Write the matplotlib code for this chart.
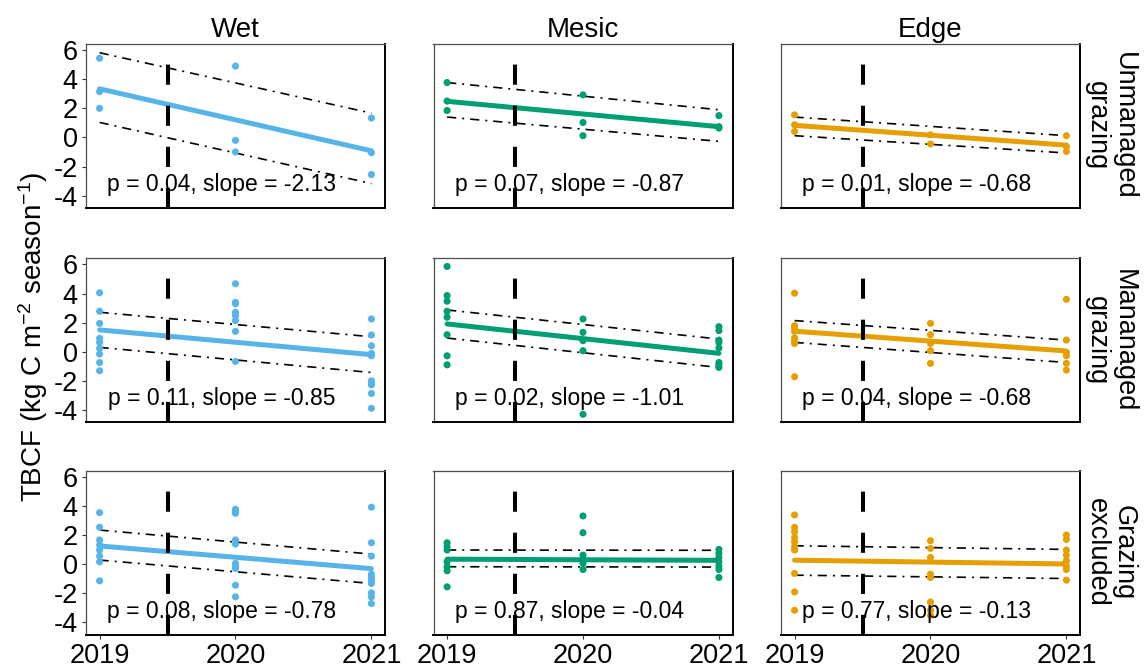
import matplotlib
matplotlib.use("Agg")
import matplotlib.pyplot as plt

plt.rcParams['font.family'] = ['Liberation Sans', 'DejaVu Sans']
plt.rcParams['mathtext.fontset'] = 'custom'
plt.rcParams['mathtext.rm'] = 'Liberation Sans'
plt.rcParams['mathtext.it'] = 'Liberation Sans:italic'
plt.rcParams['axes.unicode_minus'] = False

# ---- data -------------------------------------------------------------
habitats = ["Wet", "Mesic", "Edge"]
treatments = ["Unmanaged\ngrazing", "Mananaged\ngrazing", "Grazing\nexcluded"]
years = [2019, 2020, 2021]
colors = ["#56B4E9", "#009E73", "#E69F00"]

# TBCF observations per year (2019, 2020, 2021)
wet_unmanaged = [[5.44, 3.15, 2.0], [4.9, -0.2, -1.0], [1.33, -1.05, -2.55]]
mesic_unmanaged = [[3.77, 2.5, 1.85], [2.92, 1.03, 0.12], [1.5, 0.74, 0.64]]
edge_unmanaged = [[1.55, 0.87, 0.41], [0.18, -0.45], [0.12, -0.62, -0.96]]

wet_managed = [[4.05, 2.78, 1.95, 0.92, 0.64, 0.23, -0.16, -0.74, -1.31],
               [4.67, 3.4, 3.29, 2.71, 2.48, 2.14, 1.4, -0.67],
               [2.25, 1.15, 0.41, -0.11, -0.28, -2.0, -2.18, -2.28, -2.87, -3.89]]
mesic_managed = [[5.86, 3.86, 3.47, 2.78, 2.37, 1.17, -0.28, -0.9],
                 [2.25, 1.33, 0.76, 0.07, -4.3],
                 [1.72, 1.45, 0.8, 0.64, 0.26, -0.74, -0.9, -1.08]]
edge_managed = [[4.02, 1.79, 1.63, 1.4, 0.94, 0.76, 0.57, -1.72],
                [1.95, 1.17, 0.57, 0.07, -0.8],
                [3.6, 0.8, -0.05, -0.28, -0.8, -1.26]]

wet_excluded = [[3.54, 2.53, 1.66, 1.31, 0.97, 0.55, 0.16, -1.15],
                [3.77, 3.61, 3.49, 1.66, 1.38, 0.05, -0.18, -0.3, -1.45, -2.25],
                [3.91, 1.47, 0.55, -0.69, -0.92, -1.15, -1.33, -1.98, -2.25, -2.71]]
mesic_excluded = [[1.47, 1.19, 0.97, 0.16, -0.18, -0.46, -1.56],
                  [3.31, 2.16, 0.62, 0.39, 0.23, 0.05, -0.37],
                  [1.01, 0.74, 0.46, 0.16, -0.14, -0.37, -0.92]]
edge_excluded = [[3.38, 2.53, 2.23, 1.84, 1.54, 1.19, 0.97, -0.64, -1.91, -3.17],
                 [1.61, 1.08, 0.46, -0.69, -0.92, -2.6, -3.17, -3.52],
                 [2.0, 1.7, 0.97, 0.62, 0.23, -0.14, -0.37, -1.1]]

observations = [[wet_unmanaged, mesic_unmanaged, edge_unmanaged],
                [wet_managed, mesic_managed, edge_managed],
                [wet_excluded, mesic_excluded, edge_excluded]]

# model results: p value, slope (per year), fitted value at 2020
p_values = [[0.04, 0.07, 0.01], [0.11, 0.02, 0.04], [0.08, 0.87, 0.77]]
slopes = [[-2.13, -0.87, -0.68], [-0.85, -1.01, -0.68], [-0.78, -0.04, -0.13]]
fit_2020 = [[1.21, 1.61, 0.15], [0.65, 0.90, 0.73], [0.47, 0.30, 0.14]]

# confidence bounds at 2019 and 2021
ci_upper = [[(5.82, 1.67), (3.77, 1.90), (1.40, 0.12)],
            [(2.71, 1.03), (2.87, 0.87), (2.14, 0.80)],
            [(2.34, 0.69), (0.97, 0.95), (1.26, 1.01)]]
ci_lower = [[(1.03, -3.17), (1.40, -0.27), (0.12, -1.07)],
            [(0.30, -1.43), (0.94, -1.08), (0.64, -0.74)],
            [(0.28, -1.33), (-0.18, -0.20), (-0.76, -0.99)]]

treatment_start = 2019.5
y_ticks = [-4, -2, 0, 2, 4, 6]

# ---- layout -----------------------------------------------------------
W, H = 1144, 667
fig = plt.figure(figsize=(W / 100, H / 100), dpi=100)
lefts = [86, 433.5, 781]
tops = [44, 258.3, 470.7]
pw, ph = 299, 164

for i, top in enumerate(tops):
    for j, left in enumerate(lefts):
        ax = fig.add_axes([left / W, (H - top - ph) / H, pw / W, ph / H])
        col = colors[j]
        obs = observations[i][j]

        # confidence bounds
        ends = [years[0], years[-1]]
        for bound in (ci_upper[i][j], ci_lower[i][j]):
            ax.plot(ends, bound, color="black", lw=1.2,
                    ls=(0, (5.5, 3.6, 1.2, 3.6)), zorder=2)

        # observations
        for yr, vals in zip(years, obs):
            ax.scatter([yr] * len(vals), vals, s=26, color=col,
                       edgecolors="none", zorder=3)

        # fitted trend
        s = slopes[i][j]
        m = fit_2020[i][j]
        fit_vals = [m + s * (yr - 2020) for yr in ends]
        ax.plot(ends, fit_vals, color=col, lw=3.6, solid_capstyle="round",
                zorder=4)

        ax.text(2019.9, -3.68, f"p = {p_values[i][j]:.2f}, slope = {s:.2f}",
                ha="center", va="baseline", fontsize=16.5, zorder=5)

        ax.axvline(treatment_start, color="black", lw=2.9,
                   ls=(0, (5.0, 5.2)), zorder=6)

        ax.set_xlim(2018.9, 2021.1)
        ax.set_ylim(-4.85, 6.42)
        ax.set_xticks(years)
        ax.set_yticks(y_ticks)
        ax.tick_params(direction="out", length=3, width=0.8, color="#333333",
                       labelsize=19.5, pad=3, labelcolor="black")
        if j > 0:
            ax.tick_params(left=False, labelleft=False)
        if i < 2:
            ax.tick_params(bottom=False, labelbottom=False)

        for side in ("left", "top"):
            ax.spines[side].set_color("#4d4d4d")
            ax.spines[side].set_linewidth(0.9)
        for side in ("right", "bottom"):
            ax.spines[side].set_color("black")
            ax.spines[side].set_linewidth(1.4)

        if i == 0:
            ax.text(0.5, 1 + 6.7 / ph, habitats[j], transform=ax.transAxes,
                    ha="center", va="baseline", fontsize=20)
        if j == 2:
            fig.text(1110 / W, (H - (top + ph / 2)) / H, treatments[i],
                     rotation=-90, ha="center", va="center", fontsize=19.5,
                     linespacing=1.05)

fig.text(33 / W, (H - 337) / H, r"TBCF (kg C m$^{-2}$ season$^{-1}$)",
         rotation=90, ha="center", va="center", fontsize=20)

fig.savefig("out.png", dpi=100)
